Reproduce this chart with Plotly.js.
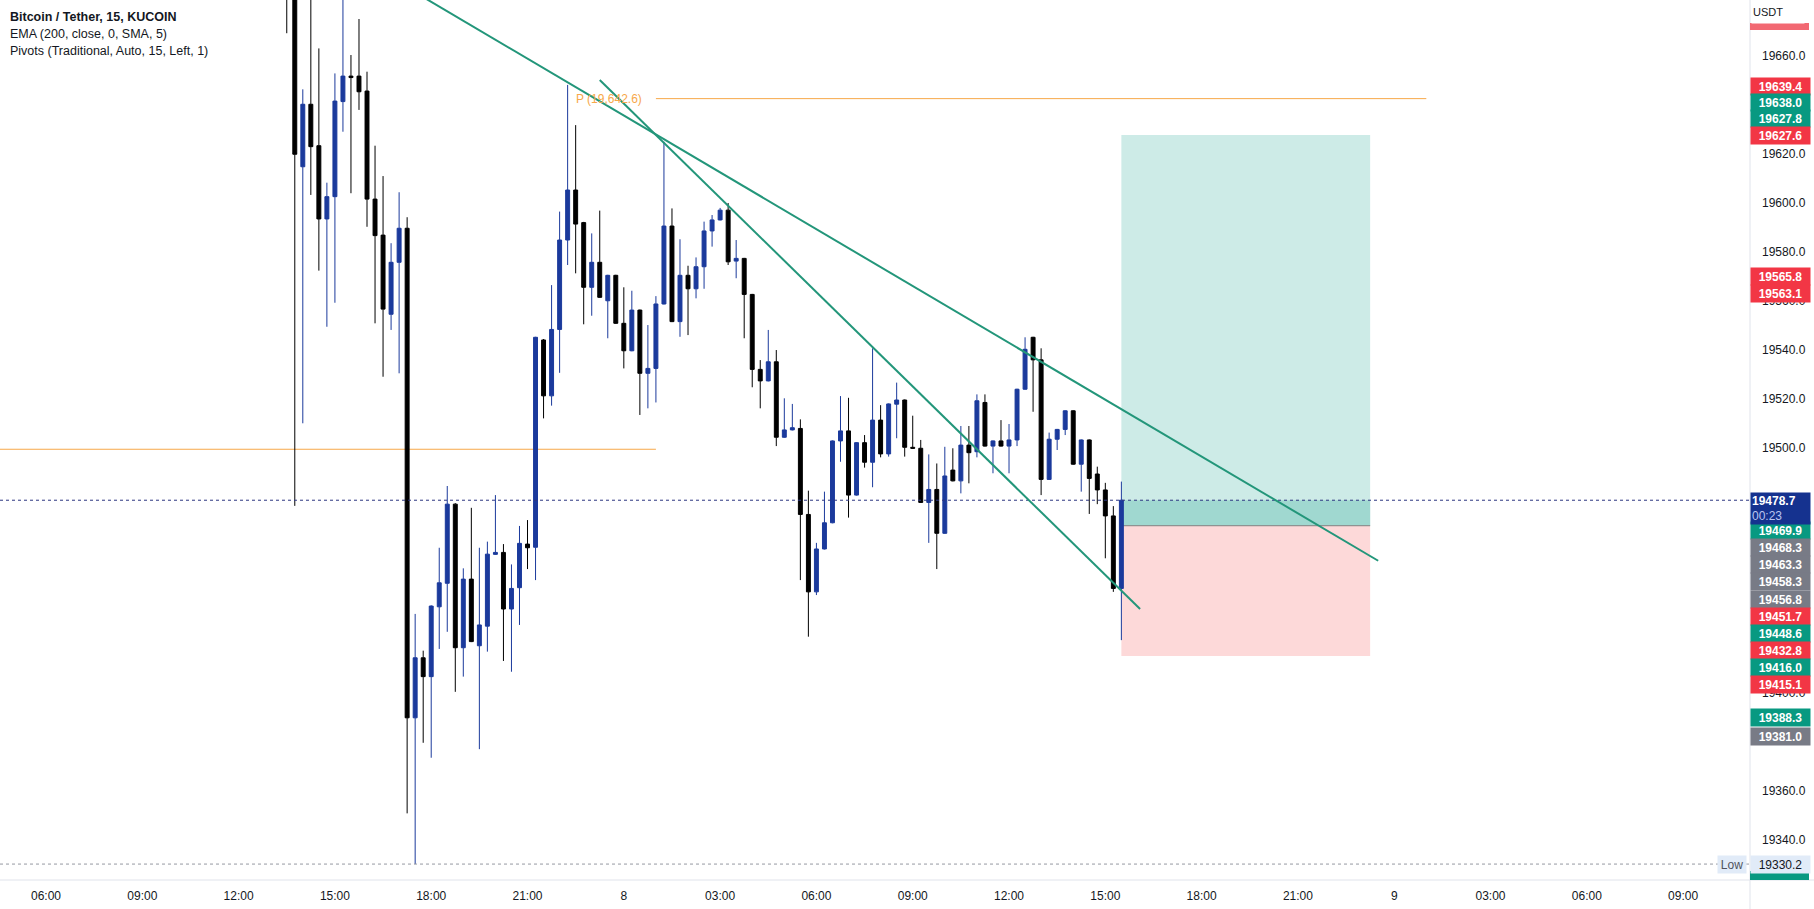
<!DOCTYPE html>
<html>
<head>
<meta charset="utf-8">
<script src="https://cdn.plot.ly/plotly-3.0.1.min.js"></script>
<style>
  html, body { margin: 0; padding: 0; background: #ffffff; }
  #chart { width: 1814px; height: 909px; }
</style>
</head>
<body>
<div id="chart"></div>
<script>
// BTC/USDT 15m candles, first bar 2022-10-07 13:30
var firstBar = Date.UTC(2022, 9, 7, 13, 30);

var opens = [
  19705.0, 19695.0, 19614.8, 19640.3, 19623.4, 19593.5, 19602.6, 19641.4, 19651.8, 19651.8,
  19645.7, 19601.6, 19586.9, 19554.6, 19575.8, 19589.7, 19389.9, 19414.4, 19406.7, 19435.2,
  19444.8, 19477.1, 19418.5, 19446.5, 19419.3, 19427.3, 19456.6, 19457.4, 19434.3, 19443.0,
  19460.8, 19459.5, 19544.1, 19521.3, 19548.4, 19584.9, 19605.3, 19592.0, 19565.6, 19575.8,
  19560.1, 19570.5, 19550.9, 19539.7, 19556.3, 19530.5, 19532.5, 19558.8, 19590.6, 19551.6,
  19570.5, 19565.0, 19574.0, 19588.6, 19593.1, 19597.1, 19576.3, 19577.4, 19562.7, 19532.1,
  19527.4, 19535.2, 19504.4, 19507.4, 19508.0, 19472.9, 19441.3, 19458.8, 19469.5, 19502.9,
  19507.0, 19480.8, 19502.2, 19494.2, 19511.4, 19497.6, 19517.9, 19519.6, 19500.3, 19499.9,
  19477.8, 19483.1, 19465.2, 19491.0, 19486.6, 19501.2, 19498.5, 19518.6, 19500.8, 19502.9,
  19500.8, 19503.3, 19524.0, 19545.2, 19536.0, 19487.2, 19503.6, 19507.6, 19515.2, 19493.4,
  19503.3, 19489.4, 19482.9, 19472.3, 19442.7
];
var highs = [
  19712.0, 19700.0, 19646.4, 19690.0, 19663.1, 19608.3, 19652.9, 19690.0, 19660.4, 19675.1,
  19653.6, 19623.4, 19611.0, 19583.6, 19604.4, 19594.2, 19432.3, 19417.3, 19435.8, 19459.3,
  19484.5, 19477.5, 19450.9, 19475.6, 19459.3, 19461.8, 19480.8, 19460.8, 19452.5, 19468.2,
  19470.6, 19545.4, 19544.5, 19566.5, 19596.5, 19648.2, 19631.8, 19592.3, 19587.6, 19596.9,
  19570.7, 19570.7, 19565.6, 19564.2, 19556.5, 19550.2, 19562.0, 19625.0, 19597.8, 19585.2,
  19574.4, 19577.8, 19592.4, 19595.1, 19598.0, 19600.0, 19584.9, 19577.6, 19562.9, 19535.9,
  19548.2, 19540.0, 19520.3, 19518.0, 19511.7, 19482.6, 19461.3, 19482.2, 19503.1, 19521.2,
  19520.5, 19502.4, 19505.3, 19540.7, 19517.5, 19518.2, 19526.7, 19519.8, 19513.2, 19503.3,
  19497.4, 19493.7, 19500.5, 19499.9, 19509.0, 19509.0, 19521.9, 19521.9, 19503.1, 19511.4,
  19509.8, 19524.2, 19545.2, 19545.4, 19540.7, 19506.3, 19507.8, 19515.4, 19515.4, 19503.5,
  19503.5, 19492.4, 19485.8, 19476.3, 19486.3
];
var lows = [
  19669.3, 19476.4, 19510.1, 19603.3, 19572.4, 19549.5, 19559.3, 19629.1, 19604.0, 19638.0,
  19590.3, 19550.9, 19529.1, 19548.2, 19530.5, 19350.9, 19330.2, 19379.7, 19373.6, 19418.0,
  19425.0, 19400.5, 19406.7, 19420.8, 19377.1, 19416.9, 19456.4, 19413.1, 19408.7, 19427.8,
  19450.6, 19446.1, 19512.1, 19517.3, 19530.7, 19574.7, 19571.3, 19550.5, 19554.0, 19561.3,
  19544.8, 19550.7, 19532.5, 19539.5, 19513.5, 19516.2, 19518.6, 19558.6, 19551.4, 19545.4,
  19546.1, 19561.1, 19565.0, 19582.2, 19592.9, 19574.7, 19569.3, 19544.8, 19524.8, 19516.2,
  19527.2, 19500.8, 19504.2, 19507.2, 19446.1, 19423.0, 19440.0, 19458.6, 19469.3, 19494.4,
  19471.6, 19480.6, 19492.0, 19484.0, 19496.2, 19496.5, 19504.0, 19496.5, 19499.7, 19477.6,
  19461.3, 19450.6, 19465.0, 19486.4, 19481.5, 19485.6, 19496.2, 19500.6, 19489.7, 19500.6,
  19489.7, 19500.8, 19523.8, 19514.8, 19480.8, 19487.0, 19499.2, 19505.3, 19493.2, 19482.2,
  19473.1, 19477.1, 19455.0, 19441.3, 19421.6
];
var closes = [
  19695.0, 19619.9, 19640.3, 19623.0, 19593.5, 19602.6, 19641.6, 19651.8, 19651.2, 19645.4,
  19601.6, 19586.7, 19556.7, 19575.8, 19589.7, 19389.9, 19414.4, 19406.7, 19435.5, 19445.0,
  19477.1, 19418.5, 19446.5, 19421.0, 19427.8, 19456.7, 19457.4, 19434.3, 19442.7, 19461.1,
  19459.3, 19545.2, 19521.3, 19548.4, 19584.9, 19605.3, 19591.4, 19565.6, 19575.8, 19561.5,
  19570.5, 19550.9, 19539.7, 19556.3, 19530.5, 19532.5, 19558.8, 19590.6, 19551.6, 19570.5,
  19565.0, 19574.0, 19588.6, 19593.1, 19597.1, 19576.0, 19577.4, 19562.7, 19532.1, 19527.4,
  19535.2, 19504.4, 19507.4, 19508.3, 19472.9, 19441.3, 19458.8, 19469.5, 19502.9, 19507.0,
  19480.8, 19502.2, 19494.2, 19511.4, 19497.6, 19518.0, 19519.6, 19500.3, 19499.9, 19477.8,
  19483.1, 19465.2, 19488.6, 19486.6, 19501.2, 19498.1, 19519.3, 19500.8, 19502.9, 19500.8,
  19503.3, 19524.0, 19540.3, 19536.0, 19487.2, 19503.6, 19507.6, 19515.2, 19493.4, 19503.3,
  19487.6, 19482.9, 19472.3, 19442.7, 19478.7
];

var xTickTimes = [
  '2022-10-07 06:00', '2022-10-07 09:00', '2022-10-07 12:00', '2022-10-07 15:00',
  '2022-10-07 18:00', '2022-10-07 21:00', '2022-10-08 00:00', '2022-10-08 03:00',
  '2022-10-08 06:00', '2022-10-08 09:00', '2022-10-08 12:00', '2022-10-08 15:00',
  '2022-10-08 18:00', '2022-10-08 21:00', '2022-10-09 00:00', '2022-10-09 03:00',
  '2022-10-09 06:00', '2022-10-09 09:00'
];
var xTickLabels = [
  '06:00', '09:00', '12:00', '15:00', '18:00', '21:00', '8', '03:00', '06:00',
  '09:00', '12:00', '15:00', '18:00', '21:00', '9', '03:00', '06:00', '09:00'
];
// price scale ticks that are not hidden behind the tags
var yTickVals = [19340, 19360, 19400, 19500, 19520, 19540, 19560, 19580, 19600, 19620, 19660];

// pivots (daily P)
var pivotPrev = 19499.5;
var pivotNow = 19642.6;
var pivotSwitch = '2022-10-08 01:00';
var pivotEnd = '2022-10-09 01:00';

// price levels
var lastPrice = 19478.7;
var lowPrice = 19330.2;

// long position tool
var entryPrice = 19468.3;
var targetPrice = 19627.8;
var stopPrice = 19415.1;
var posStart = '2022-10-08 15:30';
var posEnd = '2022-10-08 23:15';

// trend lines
var trend1 = { t: ['2022-10-07 17:50', '2022-10-08 23:30'], p: [19683.4, 19454.0] };
var trend2 = { t: ['2022-10-07 23:15', '2022-10-08 16:05'], p: [19650.2, 19434.3] };

// price scale tags
var tagValues = [19639.4, 19638.0, 19627.8, 19627.6, 19565.8, 19563.1,
                 19469.9, 19468.3, 19463.3, 19458.3, 19456.8, 19451.7, 19448.6,
                 19432.8, 19416.0, 19415.1, 19388.3, 19381.0];
var tagKinds = ['red', 'green', 'green', 'red', 'red', 'red',
                'green', 'gray', 'gray', 'gray', 'gray', 'red', 'green',
                'red', 'green', 'red', 'green', 'gray'];

var tagColors = { red: '#f23645', green: '#089981', gray: '#787b86' };
// pixel rows where the stacked tags sit
var tagRows = [86, 102, 118.5, 135.5, 276.5, 293.3,
               530.5, 547.7, 564.8, 581.9, 599, 616, 633,
               650, 667.2, 684.3, 717.7, 736];

var yMin = 19323.7, yMax = 19682.86;
var plotH = 880, plotW = 1750;
function rowToPrice(py) { return yMax - py * (yMax - yMin) / plotH; }

function fmt(ms) {
  var d = new Date(ms);
  function p(n) { return (n < 10 ? '0' : '') + n; }
  return d.getUTCFullYear() + '-' + p(d.getUTCMonth() + 1) + '-' + p(d.getUTCDate()) +
    ' ' + p(d.getUTCHours()) + ':' + p(d.getUTCMinutes());
}

var times = [];
for (var i = 0; i < opens.length; i++) {
  times.push(fmt(firstBar + i * 15 * 60000));
}

var blue = '#1b3a9c';
var candles = {
  type: 'candlestick',
  x: times,
  open: opens,
  high: highs,
  low: lows,
  close: closes,
  whiskerwidth: 0,
  line: { width: 1 },
  increasing: { line: { color: blue, width: 1 }, fillcolor: blue },
  decreasing: { line: { color: '#000000', width: 1 }, fillcolor: '#000000' },
  hoverinfo: 'skip',
  showlegend: false
};

var teal = '#23967a';
var orange = '#f7a84a';

var shapes = [
  // position tool
  { type: 'rect', layer: 'below', xref: 'x', yref: 'y', x0: posStart, x1: posEnd,
    y0: entryPrice, y1: targetPrice, fillcolor: '#cdebe7', line: { width: 0 } },
  { type: 'rect', layer: 'below', xref: 'x', yref: 'y', x0: posStart, x1: posEnd,
    y0: entryPrice, y1: lastPrice, fillcolor: '#a0d8d0', line: { width: 0 } },
  { type: 'rect', layer: 'below', xref: 'x', yref: 'y', x0: posStart, x1: posEnd,
    y0: stopPrice, y1: entryPrice, fillcolor: '#fdd9d9', line: { width: 0 } },
  { type: 'line', layer: 'below', xref: 'x', yref: 'y', x0: posStart, x1: posEnd,
    y0: entryPrice, y1: entryPrice, line: { color: '#808080', width: 1 } },
  // pivots
  { type: 'line', layer: 'below', xref: 'x', yref: 'y', x0: '2022-10-07 04:00', x1: pivotSwitch,
    y0: pivotPrev, y1: pivotPrev, line: { color: orange, width: 1 } },
  { type: 'line', layer: 'below', xref: 'x', yref: 'y', x0: pivotSwitch, x1: pivotEnd,
    y0: pivotNow, y1: pivotNow, line: { color: orange, width: 1 } },
  // price lines
  { type: 'line', layer: 'above', xref: 'paper', yref: 'y', x0: 0, x1: 1, y0: lastPrice, y1: lastPrice,
    line: { color: '#2b3580', width: 1, dash: 'dot' } },
  { type: 'line', layer: 'above', xref: 'paper', yref: 'y', x0: 0, x1: 1, y0: lowPrice, y1: lowPrice,
    line: { color: '#9598a1', width: 1, dash: 'dot' } },
  // trend lines
  { type: 'line', layer: 'above', xref: 'x', yref: 'y', x0: trend1.t[0], x1: trend1.t[1],
    y0: trend1.p[0], y1: trend1.p[1], line: { color: teal, width: 2 } },
  { type: 'line', layer: 'above', xref: 'x', yref: 'y', x0: trend2.t[0], x1: trend2.t[1],
    y0: trend2.p[0], y1: trend2.p[1], line: { color: teal, width: 2 } },
  // scale borders running into the time axis strip
  { type: 'line', xref: 'paper', yref: 'paper', x0: 1, x1: 1, y0: -29 / plotH, y1: 1,
    line: { color: '#e0e3eb', width: 1 } },
  { type: 'line', xref: 'paper', yref: 'paper', x0: 0, x1: 1814 / plotW, y0: 0, y1: 0,
    line: { color: '#e0e3eb', width: 1 } },
  // tags cut off at the scale edges
  { type: 'rect', xref: 'paper', yref: 'y', x0: 1, x1: 1 + 59 / plotW,
    y0: rowToPrice(30), y1: rowToPrice(23), fillcolor: '#f26872', line: { width: 0 } },
  { type: 'rect', xref: 'paper', yref: 'y', x0: 1, x1: 1 + 59 / plotW,
    y0: rowToPrice(880), y1: rowToPrice(871), fillcolor: '#089981', line: { width: 0 } }
];

var tagFont = { family: 'Liberation Sans, Arial, sans-serif', size: 12, color: '#ffffff' };
var annotations = [];

tagValues.forEach(function (v, k) {
  annotations.push({
    xref: 'paper', yref: 'y', x: 1, y: rowToPrice(tagRows[k]),
    xanchor: 'left', yanchor: 'middle', showarrow: false,
    text: '<b>' + v.toFixed(1) + '</b>', font: tagFont,
    bgcolor: tagColors[tagKinds[k]], width: 57, height: 15, borderpad: 1, align: 'center'
  });
});

// last price tag with countdown
annotations.push({
  xref: 'paper', yref: 'y', x: 1, y: lastPrice, yshift: 8,
  xanchor: 'left', yanchor: 'top', showarrow: false,
  text: '<b>' + lastPrice.toFixed(1) + '</b><br><span style="color:#b9c5f0">00:23</span>',
  font: tagFont, bgcolor: '#15328f', width: 57, height: 29, borderpad: 1, align: 'left'
});

// session low
annotations.push({
  xref: 'paper', yref: 'y', x: 1, y: lowPrice,
  xanchor: 'left', yanchor: 'middle', showarrow: false,
  text: lowPrice.toFixed(1), font: { family: 'Liberation Sans, Arial, sans-serif', size: 12, color: '#131722' },
  bgcolor: '#e1ebf8', width: 57, height: 15, borderpad: 1, align: 'center'
});
annotations.push({
  xref: 'paper', yref: 'y', x: 1, y: lowPrice, xshift: -3,
  xanchor: 'right', yanchor: 'middle', showarrow: false,
  text: 'Low', font: { family: 'Liberation Sans, Arial, sans-serif', size: 12, color: '#50535e' },
  bgcolor: '#e1ebf8', width: 26, height: 15, borderpad: 1
});

// currency caption on the price scale
annotations.push({
  xref: 'paper', yref: 'paper', x: 1, y: 1, xanchor: 'left', yanchor: 'top', showarrow: false,
  text: 'USDT', font: { family: 'Liberation Sans, Arial, sans-serif', size: 11, color: '#131722' },
  bgcolor: '#ffffff', width: 50, height: 20, borderpad: 1, align: 'left', xshift: 1
});

// pivot label
annotations.push({
  xref: 'x', yref: 'y', x: pivotSwitch, y: pivotNow, xshift: -12,
  xanchor: 'right', yanchor: 'middle', showarrow: false,
  text: 'P (19,642.6)', font: { family: 'Liberation Sans, Arial, sans-serif', size: 12, color: orange }
});

// legend lines top-left
var legendLines = [
  '<b>Bitcoin / Tether, 15, KUCOIN</b>',
  'EMA (200, close, 0, SMA, 5)',
  'Pivots (Traditional, Auto, 15, Left, 1)'
];
var legendRows = [16.7, 34, 50.7];
legendLines.forEach(function (t, k) {
  annotations.push({
    xref: 'paper', yref: 'paper', x: 8 / plotW, y: 1 - legendRows[k] / plotH,
    xanchor: 'left', yanchor: 'middle', showarrow: false, text: t,
    font: { family: 'Liberation Sans, Arial, sans-serif', size: 12.5, color: '#131722' }
  });
});

var layout = {
  width: 1814,
  height: 909,
  margin: { l: 0, r: 64, t: 0, b: 29 },
  paper_bgcolor: '#ffffff',
  plot_bgcolor: '#ffffff',
  showlegend: false,
  hovermode: false,
  font: { family: 'Liberation Sans, Arial, sans-serif', color: '#131722' },
  xaxis: {
    type: 'date',
    range: ['2022-10-07 04:34', '2022-10-09 11:05'],
    tickvals: xTickTimes,
    ticktext: xTickLabels,
    showgrid: false,
    zeroline: false,
    showline: false,
    ticks: '',
    ticklabelstandoff: 7,
    tickfont: { size: 12, color: '#131722' },
    rangeslider: { visible: false },
    fixedrange: true
  },
  yaxis: {
    side: 'right',
    range: [yMin, yMax],
    tickvals: yTickVals,
    tickformat: '.1f',
    showgrid: false,
    zeroline: false,
    showline: false,
    ticks: '',
    ticklabelstandoff: 11,
    tickfont: { size: 12, color: '#131722' },
    fixedrange: true
  },
  shapes: shapes,
  annotations: annotations
};

Plotly.newPlot('chart', [candles], layout, { displayModeBar: false, staticPlot: true });
</script>
</body>
</html>
